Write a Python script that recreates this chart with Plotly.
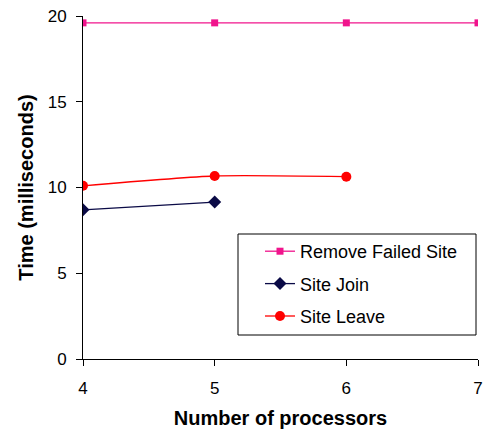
import plotly.graph_objects as go

processors = [4, 5, 6, 7]
remove_failed = [19.6, 19.6, 19.6, 19.6]
join_procs = [4, 5]
site_join = [8.7, 9.15]
leave_procs = [4, 5, 6]
site_leave = [10.1, 10.67, 10.63]

fig = go.Figure()
fig.add_trace(go.Scatter(
    x=processors, y=remove_failed, name="Remove Failed Site", mode="lines+markers",
    line=dict(color="#F0148C", width=1.3),
    marker=dict(symbol="square", size=7, color="#F0148C"),
    legendgroup="a"))
fig.add_trace(go.Scatter(
    x=join_procs, y=site_join, name="Site Join", mode="lines+markers",
    line=dict(color="#0A0A46", width=1.3),
    marker=dict(symbol="diamond", size=10, color="#0A0A46"),
    legendgroup="b"))
fig.add_trace(go.Scatter(
    x=leave_procs, y=site_leave, name="Site Leave", mode="lines+markers",
    line=dict(color="#FF0000", width=1.3, shape="spline", smoothing=0.6),
    marker=dict(symbol="circle", size=10, color="#FF0000"),
    legendgroup="c"))

font = "Liberation Sans, Arial, sans-serif"
W, H = 485, 429
L, R, T, B = 83, 7, 16, 70
pw, ph = W - L - R, H - T - B


def px_x(v):
    return (v - L) / pw


def px_y(v):
    return (H - B - v) / ph


fig.update_layout(
    width=W, height=H,
    margin=dict(l=L, r=R, t=T, b=B, autoexpand=False),
    paper_bgcolor="white", plot_bgcolor="white",
    font=dict(family=font, size=17, color="black"),
    showlegend=True,
    legend=dict(
        x=px_x(260), y=px_y(233), xanchor="left", yanchor="top",
        borderwidth=0, bgcolor="rgba(0,0,0,0)",
        font=dict(size=18), traceorder="grouped", tracegroupgap=6,
        itemwidth=30),
    shapes=[dict(type="rect", xref="paper", yref="paper",
                 x0=px_x(238), x1=px_x(476), y0=px_y(335), y1=px_y(234),
                 line=dict(color="black", width=1), fillcolor="white", layer="below")],
    xaxis=dict(
        range=[4, 7], tickvals=processors, showgrid=False, zeroline=False,
        showline=True, linecolor="black", linewidth=1, automargin=False,
        ticks="outside", ticklen=6, tickcolor="black", ticklabelstandoff=8,
        title=dict(text="<b>Number of processors</b>", font=dict(size=20), standoff=13)),
    yaxis=dict(
        range=[0, 20], tickvals=[0, 5, 10, 15, 20], showgrid=False, zeroline=False,
        showline=True, linecolor="black", linewidth=1, automargin=False,
        ticks="outside", ticklen=6, tickcolor="black", ticklabelstandoff=6,
        title=dict(text="<b>Time (milliseconds)</b>", font=dict(size=20), standoff=8)),
)

fig.write_html("out.html")
